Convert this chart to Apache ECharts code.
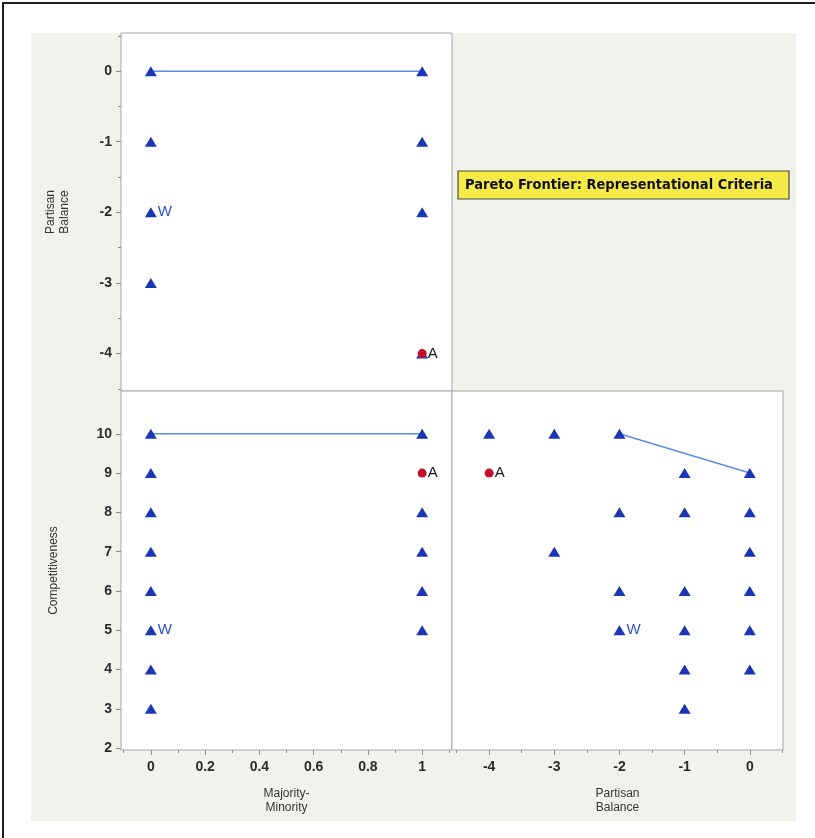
<!DOCTYPE html>
<html>
<head>
<meta charset="utf-8">
<script src="https://cdn.jsdelivr.net/npm/echarts@6/dist/echarts.min.js"></script>
<style>
  html, body { margin: 0; padding: 0; background: #fff; }
  #chart { width: 815px; height: 838px; }
</style>
</head>
<body>
<div id="chart"></div>
<script>
// tick values
const majMinTicks = [0, 0.2, 0.4, 0.6, 0.8, 1]
const majMinMinor = [-0.1, 0.1, 0.3, 0.5, 0.7, 0.9, 1.1]
const partisanTicks = [-4, -3, -2, -1, 0]
const partisanMinor = [-4.5, -3.5, -2.5, -1.5, -0.5, 0.5]
const compTicks = [2, 3, 4, 5, 6, 7, 8, 9, 10]

// designs: [Majority-Minority, Partisan Balance] etc.
const pbVsMm = [[0, 0], [0, -1], [0, -3], [1, 0], [1, -1], [1, -2], [1, -4]]
const compVsMm = [[0, 10], [0, 9], [0, 8], [0, 7], [0, 6], [0, 4], [0, 3],
  [1, 10], [1, 8], [1, 7], [1, 6], [1, 5]]
const compVsPb = [[-4, 10], [-3, 10], [-2, 10], [-1, 9], [0, 9], [-2, 8], [-1, 8], [0, 8],
  [-3, 7], [0, 7], [-2, 6], [-1, 6], [0, 6], [-1, 5], [0, 5], [-1, 4], [0, 4], [-1, 3]]

// pareto frontier lines
const frontierPbMm = [[0, 0], [1, 0]]
const frontierCompMm = [[0, 10], [1, 10]]
const frontierCompPb = [[-2, 10], [0, 9]]

// labelled plans: [Majority-Minority, Partisan Balance, Competitiveness]
const planW = [0, -2, 5]
const planA = [1, -4, 9]

const title = 'Pareto Frontier: Representational Criteria'

const triColor = '#1a36b4'
const lineColor = '#5b8ce6'
const redColor = '#c4102b'
const frameColor = '#a6a6a6'
const tickColor = '#8c8c8c'
const font = 'Liberation Sans, Arial, sans-serif'

const chart = echarts.init(document.getElementById('chart'))

const tickLabel = {
  fontFamily: font,
  fontSize: 14,
  fontWeight: 'bold',
  color: '#2b2b2b'
}
const nameStyle = {
  fontFamily: font,
  fontSize: 12,
  color: '#333',
  lineHeight: 14
}

const majorAxis = (extra) => Object.assign({
  type: 'value',
  axisLine: { show: false, onZero: false },
  splitLine: { show: false },
  axisTick: { show: true, length: 5, lineStyle: { color: tickColor } },
  axisLabel: Object.assign({ margin: 9 }, tickLabel),
  nameLocation: 'middle',
  nameTextStyle: nameStyle
}, extra)

const minorAxis = (extra, values) => Object.assign({
  type: 'value',
  axisLine: { show: false, onZero: false },
  splitLine: { show: false },
  axisLabel: { show: false },
  axisTick: { show: true, length: 3, customValues: values, lineStyle: { color: tickColor } }
}, extra)

const mmRange = { min: -0.11, max: 1.11 }
const pbXRange = { min: -4.57, max: 0.51 }
const pbYRange = { min: -4.53, max: 0.54 }
const compRange = { min: 1.95, max: 11.09 }

const triangles = (xi, yi, data) => ({
  type: 'scatter',
  xAxisIndex: xi,
  yAxisIndex: yi,
  symbol: 'triangle',
  symbolSize: [12, 10],
  itemStyle: { color: triColor, opacity: 1 },
  data: data,
  z: 3
})

const frontier = (xi, yi, data) => ({
  type: 'line',
  xAxisIndex: xi,
  yAxisIndex: yi,
  symbol: 'none',
  lineStyle: { color: lineColor, width: 1.5 },
  data: data,
  z: 2
})

const planMarker = (xi, yi, point, name, isW) => ({
  type: 'scatter',
  xAxisIndex: xi,
  yAxisIndex: yi,
  symbol: isW ? 'triangle' : 'circle',
  symbolSize: isW ? [12, 10] : 9,
  itemStyle: { color: isW ? triColor : redColor, opacity: 1 },
  label: {
    show: true,
    position: 'right',
    distance: 1,
    formatter: name,
    fontFamily: font,
    fontSize: 15,
    color: isW ? '#3052d0' : '#1a1a1a'
  },
  data: [point],
  z: 4
})

const option = {
  animation: false,
  backgroundColor: '#fff',
  graphic: [
    {
      type: 'rect',
      shape: { x: 3, y: 3, width: 830, height: 850 },
      style: { fill: 'none', stroke: '#1e1e1e', lineWidth: 2 },
      z: -10
    },
    {
      type: 'rect',
      shape: { x: 31, y: 33, width: 765, height: 788 },
      style: { fill: '#f2f2ed' },
      z: -10
    },
    {
      type: 'rect',
      shape: { x: 458, y: 171, width: 331, height: 28 },
      style: { fill: '#f6ea48', stroke: '#4a4a3a', lineWidth: 1.2 },
      z: 10
    },
    {
      type: 'text',
      x: 465,
      y: 185,
      style: {
        text: title,
        font: 'bold 14.5px "DejaVu Sans Condensed", sans-serif',
        fill: '#111',
        textVerticalAlign: 'middle'
      },
      z: 11
    }
  ],
  grid: [
    { left: 121, top: 33, width: 331, height: 358, show: true, backgroundColor: '#fff', borderColor: frameColor, borderWidth: 1 },
    { left: 121, top: 391, width: 331, height: 359, show: true, backgroundColor: '#fff', borderColor: frameColor, borderWidth: 1 },
    { left: 452, top: 391, width: 331, height: 359, show: true, backgroundColor: '#fff', borderColor: frameColor, borderWidth: 1 }
  ],
  xAxis: [
    majorAxis(Object.assign({ gridIndex: 0, position: 'bottom', show: false }, mmRange)),
    majorAxis(Object.assign({
      gridIndex: 1, position: 'bottom',
      name: 'Majority-\nMinority', nameGap: 37,
      axisTick: { show: true, length: 5, customValues: majMinTicks, lineStyle: { color: tickColor } },
      axisLabel: Object.assign({ margin: 10, customValues: majMinTicks }, tickLabel)
    }, mmRange)),
    majorAxis(Object.assign({
      gridIndex: 2, position: 'bottom',
      name: 'Partisan\nBalance', nameGap: 37,
      axisTick: { show: true, length: 5, customValues: partisanTicks, lineStyle: { color: tickColor } },
      axisLabel: Object.assign({ margin: 10, customValues: partisanTicks }, tickLabel)
    }, pbXRange)),
    minorAxis(Object.assign({ gridIndex: 1, position: 'bottom' }, mmRange), majMinMinor),
    minorAxis(Object.assign({ gridIndex: 2, position: 'bottom' }, pbXRange), partisanMinor)
  ],
  yAxis: [
    majorAxis(Object.assign({
      gridIndex: 0, position: 'left',
      name: 'Partisan\nBalance', nameGap: 49,
      axisTick: { show: true, length: 5, customValues: partisanTicks, lineStyle: { color: tickColor } },
      axisLabel: Object.assign({ margin: 9, customValues: partisanTicks }, tickLabel)
    }, pbYRange)),
    majorAxis(Object.assign({
      gridIndex: 1, position: 'left',
      name: 'Competitiveness', nameGap: 60,
      axisTick: { show: true, length: 5, customValues: compTicks, lineStyle: { color: tickColor } },
      axisLabel: Object.assign({ margin: 9, customValues: compTicks }, tickLabel)
    }, compRange)),
    majorAxis(Object.assign({ gridIndex: 2, position: 'left', show: false }, compRange)),
    minorAxis(Object.assign({ gridIndex: 0, position: 'left' }, pbYRange), partisanMinor)
  ],
  series: [
    frontier(0, 0, frontierPbMm),
    triangles(0, 0, pbVsMm),
    planMarker(0, 0, [planW[0], planW[1]], 'W', true),
    planMarker(0, 0, [planA[0], planA[1]], 'A', false),

    frontier(1, 1, frontierCompMm),
    triangles(1, 1, compVsMm),
    planMarker(1, 1, [planW[0], planW[2]], 'W', true),
    planMarker(1, 1, [planA[0], planA[2]], 'A', false),

    frontier(2, 2, frontierCompPb),
    triangles(2, 2, compVsPb),
    planMarker(2, 2, [planW[1], planW[2]], 'W', true),
    planMarker(2, 2, [planA[1], planA[2]], 'A', false)
  ]
}

chart.setOption(option)
</script>
</body>
</html>
